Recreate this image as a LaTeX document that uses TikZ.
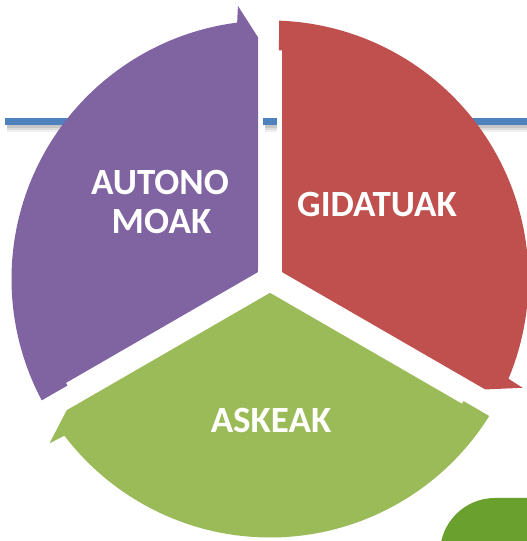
\documentclass[tikz,border=0pt]{standalone}
\usepackage{fontspec}
\setmainfont{Carlito}
\definecolor{cpurple}{HTML}{8064A2}
\definecolor{cred}{HTML}{C0504D}
\definecolor{cgreen}{HTML}{9BBB59}
\definecolor{cblue}{HTML}{4F81BD}
\definecolor{cdkgreen}{HTML}{6AA02E}
\newcommand\cycseg[2]{%
  \fill[#2] ({#1+150}:13.86) -- ({#1+92.84}:242) -- ({#1+96.7}:275)
    -- ({#1+97.3}:258.5) arc[start angle={#1+97.3}, end angle={#1+208.0}, radius=258.5pt]
    -- ({#1+207.75}:228.9) -- ({#1+206.99}:229.0) -- cycle;}
\tikzset{
  lbl/.style={text=white, font=\fontsize{37}{39}\selectfont\bfseries, anchor=base, inner sep=0pt},
}
\begin{document}
\begin{tikzpicture}[x=1pt,y=1pt]
\useasboundingbox (0,0) rectangle (527,541);
% background blue line with shadow
\foreach \a/\b in {5/200, 263/277, 400/527}{
  \fill[black, opacity=0.06] (\a+2,409) rectangle (\b,416);
  \fill[black, opacity=0.08] (\a+2,411) rectangle (\b,416);
  \fill[black, opacity=0.10] (\a+2,413) rectangle (\b,416);
  \fill[cblue] (\a,416) rectangle (\b,423);
}
% dark green corner shape
\fill[cdkgreen, rounded corners=55pt] (440,-120) rectangle (660,43);
% cycle segments
\begin{scope}[shift={(270,262)}]
  \cycseg{0}{cpurple}
  \cycseg{-120}{cred}
  \cycseg{120}{cgreen}
\end{scope}
% labels
\node[lbl] (t1) at (160,346) {AUTONO};
\node[lbl] (t2) at (161.5,307.5) {MOAK};
\node[lbl] (t3) at (377,324) {GIDATUAK};
\node[lbl] (t4) at (271,108) {ASKEAK};
\end{tikzpicture}
\end{document}
